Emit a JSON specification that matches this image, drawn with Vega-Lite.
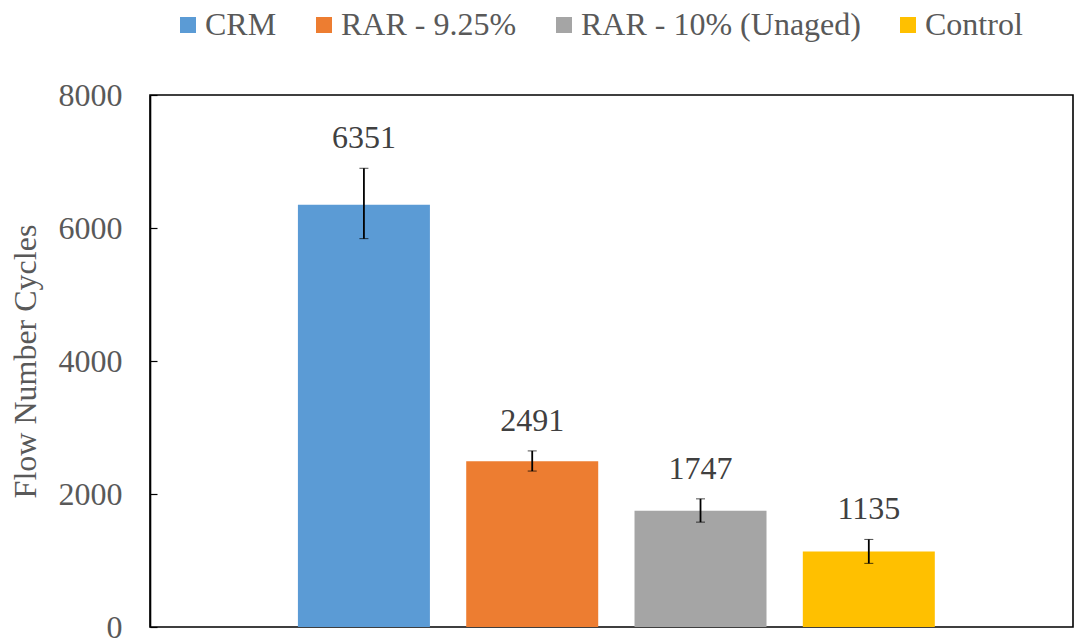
{
  "$schema": "https://vega.github.io/schema/vega-lite/v6.json",
  "autosize": {"type": "none"},
  "width": 923,
  "height": 532,
  "padding": {"left": 150, "top": 95, "right": 1, "bottom": 11},
  "background": "#ffffff",
  "config": {
    "font": "Times New Roman, Liberation Serif, serif",
    "view": {"stroke": "#000000", "strokeWidth": 1.6}
  },
  "data": {
    "values": [
      {"mix": "CRM", "cycles": 6351, "lo": 5840, "hi": 6898},
      {"mix": "RAR - 9.25%", "cycles": 2491, "lo": 2345, "hi": 2648},
      {"mix": "RAR - 10% (Unaged)", "cycles": 1747, "lo": 1577, "hi": 1927},
      {"mix": "Control", "cycles": 1135, "lo": 957, "hi": 1317}
    ]
  },
  "encoding": {
    "x": {
      "field": "mix",
      "type": "nominal",
      "sort": ["CRM", "RAR - 9.25%", "RAR - 10% (Unaged)", "Control"],
      "scale": {"paddingInner": 0.2157, "paddingOuter": 0.85, "align": 0.517},
      "axis": null
    }
  },
  "layer": [
    {
      "mark": {"type": "bar"},
      "encoding": {
        "y": {
          "field": "cycles",
          "type": "quantitative",
          "title": "Flow Number Cycles",
          "scale": {"domain": [0, 8000], "nice": false},
          "axis": {
            "values": [0, 2000, 4000, 6000, 8000],
            "format": "d",
            "grid": false,
            "domain": true,
            "domainColor": "#000000",
            "domainWidth": 1.6,
            "tickColor": "#000000",
            "tickSize": -7,
            "tickWidth": 1.2,
            "labelPadding": 35,
            "labelFont": "Times New Roman, Liberation Serif, serif",
            "labelFontSize": 32,
            "labelColor": "#595959",
            "title": "Flow Number Cycles",
            "titleFont": "Times New Roman, Liberation Serif, serif",
            "titleFontSize": 32,
            "titleFontWeight": "normal",
            "titleColor": "#595959",
            "titlePadding": 16
          }
        },
        "color": {
          "field": "mix",
          "type": "nominal",
          "sort": ["CRM", "RAR - 9.25%", "RAR - 10% (Unaged)", "Control"],
          "scale": {
            "domain": ["CRM", "RAR - 9.25%", "RAR - 10% (Unaged)", "Control"],
            "range": ["#5B9BD5", "#ED7D31", "#A5A5A5", "#FFC000"]
          },
          "legend": {
            "title": null,
            "orient": "none",
            "direction": "horizontal",
            "legendX": 22,
            "legendY": -86,
            "padding": 0,
            "symbolType": "square",
            "symbolSize": 256,
            "symbolStrokeWidth": 0,
            "labelFont": "Times New Roman, Liberation Serif, serif",
            "labelFontSize": 32,
            "labelColor": "#595959",
            "labelOffset": 1,
            "columnPadding": 31,
            "labelLimit": 400
          }
        }
      }
    },
    {
      "mark": {"type": "errorbar", "ticks": {"size": 9, "color": "#000000", "strokeWidth": 1.8}, "rule": {"color": "#000000", "strokeWidth": 1.8}},
      "encoding": {
        "y": {"field": "lo", "type": "quantitative", "title": "Flow Number Cycles"},
        "y2": {"field": "hi"}
      }
    },
    {
      "mark": {"type": "text", "fontSize": 32, "color": "#404040", "baseline": "alphabetic", "dy": -20, "font": "Times New Roman, Liberation Serif, serif"},
      "encoding": {
        "y": {"field": "hi", "type": "quantitative", "title": "Flow Number Cycles"},
        "text": {"field": "cycles", "type": "quantitative", "format": "d"}
      }
    }
  ]
}
